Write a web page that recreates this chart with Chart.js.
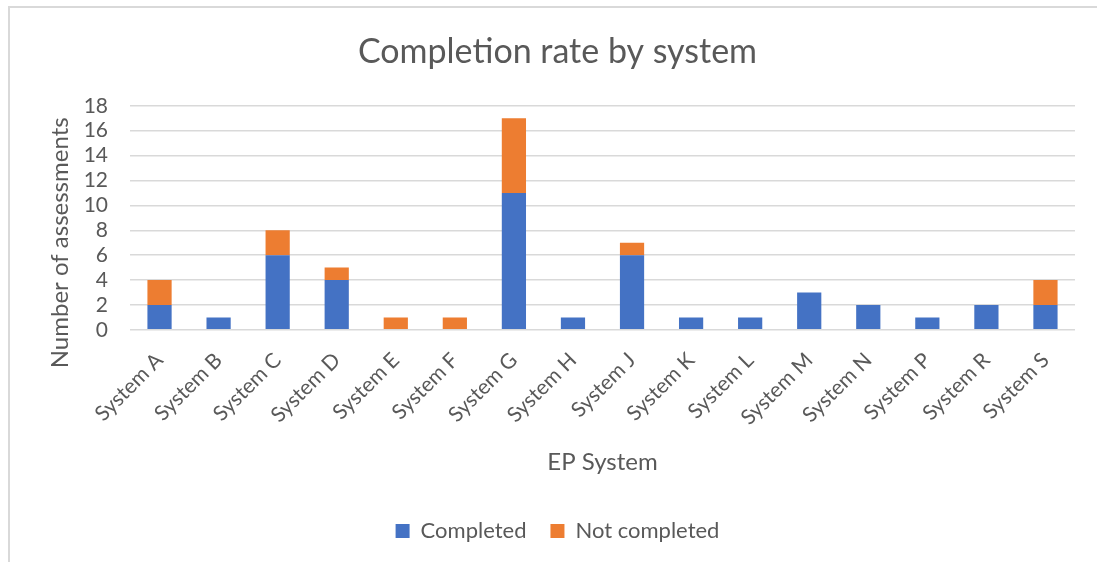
<!DOCTYPE html>
<html>
<head>
<meta charset="utf-8">
<script src="https://cdn.jsdelivr.net/npm/chart.js@4"></script>
<style>
  html, body { margin: 0; padding: 0; background: #ffffff; }
  #wrap { position: relative; width: 1097px; height: 562px; overflow: hidden; }
  #frame { position: absolute; left: 8px; top: 6px; width: 1200px; height: 700px;
           border-top: 2px solid #d9d9d9; border-left: 2px solid #d9d9d9; box-sizing: border-box; }
  canvas { position: absolute; left: 0; top: 0; }
</style>
</head>
<body>
<div id="wrap">
  <div id="frame"></div>
  <canvas id="c" width="1097" height="562"></canvas>
</div>
<script>
// Assessment counts per EP system
const systems = ["System A", "System B", "System C", "System D", "System E", "System F",
                 "System G", "System H", "System J", "System K", "System L", "System M",
                 "System N", "System P", "System R", "System S"];
const completed    = [2, 1, 6, 4, 0, 0, 11, 1, 6, 1, 1, 3, 2, 1, 2, 2];
const notCompleted = [2, 0, 2, 1, 1, 1, 6, 0, 1, 0, 0, 0, 0, 0, 0, 2];
const yTicks = [0, 2, 4, 6, 8, 10, 12, 14, 16, 18];
const yAxisTitle = "Number of assessments";

const FONT = "Lato, 'Open Sans', sans-serif";
const GREY = "#595959";

// Vertical axis title, centred a little below the middle of the plot like the office-style layout
const yTitlePlugin = {
  id: "yTitle",
  afterDraw(chart) {
    const { ctx, chartArea } = chart;
    ctx.save();
    ctx.translate(chartArea.left - 70, (chartArea.top + chartArea.bottom) / 2 + 25);
    ctx.rotate(-Math.PI / 2);
    ctx.font = "24px " + FONT;
    ctx.fillStyle = GREY;
    ctx.textAlign = "center";
    ctx.textBaseline = "middle";
    ctx.fillText(yAxisTitle, 0, 0);
    ctx.restore();
  }
};

new Chart(document.getElementById("c"), {
  type: "bar",
  data: {
    labels: systems,
    datasets: [
      { label: "Completed", data: completed, backgroundColor: "#4472c4",
        borderWidth: 0, categoryPercentage: 1, barPercentage: 0.41 },
      { label: "Not completed", data: notCompleted, backgroundColor: "#ed7d31",
        borderWidth: 0, categoryPercentage: 1, barPercentage: 0.41 }
    ]
  },
  plugins: [yTitlePlugin],
  options: {
    responsive: false,
    animation: false,
    layout: { padding: { left: 40, right: 22, top: 0, bottom: 10 } },
    plugins: {
      title: {
        display: true,
        text: "Completion rate by system",
        color: GREY,
        font: { family: FONT, size: 34, weight: "normal" },
        padding: { top: 32, bottom: 33 }
      },
      legend: {
        position: "bottom",
        labels: {
          color: GREY,
          font: { family: FONT, size: 22 },
          boxWidth: 14, boxHeight: 14, padding: 24
        }
      },
      tooltip: { enabled: false }
    },
    scales: {
      x: {
        stacked: true,
        grid: { display: false },
        border: { display: false },
        ticks: {
          color: GREY,
          font: { family: FONT, size: 21 },
          minRotation: 45, maxRotation: 45,
          autoSkip: false,
          padding: 10
        },
        title: {
          display: true, text: "EP System", color: GREY,
          font: { family: FONT, size: 24 },
          padding: { top: 8, bottom: 19 }
        }
      },
      y: {
        stacked: true,
        min: 0, max: 18,
        afterBuildTicks: (s) => { s.ticks = yTicks.map(v => ({ value: v })); },
        grid: { color: "#d9d9d9", lineWidth: 1.5, drawTicks: false },
        border: { display: false },
        ticks: {
          color: GREY,
          font: { family: FONT, size: 21 },
          autoSkip: false,
          padding: 22
        },
        afterFit: (s) => { s.width = 90; }
      }
    }
  }
});
</script>
</body>
</html>
